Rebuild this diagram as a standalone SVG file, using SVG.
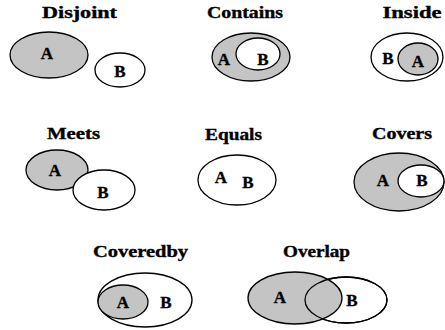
<svg xmlns="http://www.w3.org/2000/svg" width="445" height="330" viewBox="0 0 445 330">
<style>
text{font-family:'Liberation Serif','Times New Roman',serif;font-weight:700;fill:#000;text-anchor:middle;stroke:#000;stroke-width:0.35}
.t{font-size:16px}
.l{font-size:17px}
.g{fill:#c4c4c4;stroke:#000;stroke-width:1.3}
.w{fill:#fff;stroke:#000;stroke-width:1.3}
.o{fill:none;stroke:#000;stroke-width:1.3}
</style>
<rect width="445" height="330" fill="#fff"/>
<g id="disjoint">
<text class="t" x="79.5" y="18" textLength="75" lengthAdjust="spacingAndGlyphs">Disjoint</text>
<ellipse class="g" cx="49" cy="55" rx="39" ry="23"/>
<ellipse class="w" cx="120" cy="70" rx="25" ry="17"/>
<text class="l" x="47" y="59">A</text>
<text class="l" x="120" y="77">B</text>
</g>
<g id="contains">
<text class="t" x="245" y="18" textLength="76" lengthAdjust="spacingAndGlyphs">Contains</text>
<ellipse class="g" cx="251" cy="57" rx="39" ry="24"/>
<ellipse class="w" cx="258" cy="54" rx="22" ry="16"/>
<text class="l" x="224" y="65">A</text>
<text class="l" x="263" y="65">B</text>
</g>
<g id="inside">
<text class="t" x="412" y="18" textLength="59" lengthAdjust="spacingAndGlyphs">Inside</text>
<ellipse class="w" cx="407" cy="57" rx="36" ry="24"/>
<ellipse class="g" cx="418" cy="59" rx="20" ry="16"/>
<text class="l" x="388" y="64">B</text>
<text class="l" x="418" y="67">A</text>
</g>
<g id="meets">
<text class="t" x="73.5" y="139" textLength="53" lengthAdjust="spacingAndGlyphs">Meets</text>
<ellipse class="g" cx="57" cy="170" rx="31" ry="20"/>
<ellipse class="w" cx="104" cy="190" rx="31" ry="20"/>
<text class="l" x="55" y="176">A</text>
<text class="l" x="103" y="198">B</text>
</g>
<g id="equals">
<text class="t" x="233.5" y="140" textLength="57" lengthAdjust="spacingAndGlyphs">Equals</text>
<ellipse class="w" cx="237" cy="180" rx="39" ry="25"/>
<text class="l" x="221" y="183">A</text>
<text class="l" x="248" y="188">B</text>
</g>
<g id="covers">
<text class="t" x="402" y="139" textLength="60" lengthAdjust="spacingAndGlyphs">Covers</text>
<ellipse class="g" cx="399" cy="182" rx="45" ry="29"/>
<ellipse class="w" cx="421" cy="181" rx="23" ry="16"/>
<text class="l" x="383" y="186">A</text>
<text class="l" x="422" y="186">B</text>
</g>
<g id="coveredby">
<text class="t" x="140.5" y="257" textLength="95" lengthAdjust="spacingAndGlyphs">Coveredby</text>
<ellipse class="w" cx="145" cy="300" rx="47" ry="27"/>
<ellipse class="g" cx="123" cy="302" rx="25" ry="17"/>
<text class="l" x="123" y="308">A</text>
<text class="l" x="166" y="308">B</text>
</g>
<g id="overlap">
<text class="t" x="316.5" y="257" textLength="67" lengthAdjust="spacingAndGlyphs">Overlap</text>
<ellipse class="w" cx="346" cy="300" rx="41" ry="23"/>
<ellipse class="g" cx="295" cy="298" rx="47" ry="26"/>
<ellipse class="o" cx="346" cy="300" rx="41" ry="23"/>
<text class="l" x="280" y="303">A</text>
<text class="l" x="352" y="306">B</text>
</g>
<g id="connectors"/>
</svg>
